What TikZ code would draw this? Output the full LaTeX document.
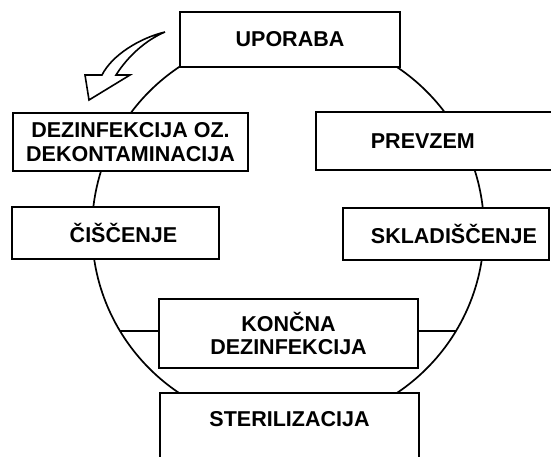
\documentclass[tikz,border=0pt]{standalone}
\usepackage{fontspec}
\setmainfont{Liberation Sans}
\usepackage{tikz}
\usetikzlibrary{backgrounds}

\tikzset{
  box/.style={draw,line width=1.8pt,fill=white,inner sep=0pt,align=center,
    font=\fontsize{21.5}{23.5}\selectfont\bfseries},
  ring/.style={line width=1.7pt},
  bend arrow/.style={draw,line width=1.6pt,fill=white,line join=miter}
}

\begin{document}
\begin{tikzpicture}[x=1pt,y=-1pt]
\useasboundingbox (0,0) rectangle (551,457);
\node [box,minimum width=220pt,minimum height=55pt] (uporaba) at (290,39.5) {UPORABA};
\node [box,minimum width=235pt,minimum height=58pt] (dezinfekcija) at (130.5,142)
  {DEZINFEKCIJA OZ.\\DEKONTAMINACIJA};
\node [box,anchor=west,minimum height=58pt,text width=190pt,inner xsep=55pt,align=left]
  (prevzem) at (315,141) {PREVZEM};
\node [box,minimum width=207pt,minimum height=52pt] (ciscenje) at (115.5,233) {\hspace{16pt}ČIŠČENJE};
\node [box,minimum width=206pt,minimum height=52pt] (skladiscenje) at (446,234) {\hspace{16pt}SKLADIŠČENJE};
\node [box,minimum width=259pt,minimum height=69pt] (koncna) at (288.5,333.5)
  {KONČNA\\DEZINFEKCIJA};
\node [box,anchor=north,minimum width=259pt,inner ysep=19pt,text depth=60pt]
  (sterilizacija) at (289.5,392) {STERILIZACIJA};
\coordinate (ringleft) at (120,331);
\coordinate (ringright) at (456,331);
\begin{scope}[on background layer]
\draw [ring] (288,230) circle [radius=196];
\draw [ring] (ringleft) -- (ringleft -| koncna.west);
\draw [ring] (ringright) -- (ringright -| koncna.east);
\end{scope}
\draw [bend arrow] (165,32) .. controls (140,38) and (112,55) .. (102,75)
  -- (85,75) -- (89,100) -- (130,75) -- (116,75)
  .. controls (128,56) and (146,40) .. (165,32) -- cycle;
\end{tikzpicture}
\end{document}
